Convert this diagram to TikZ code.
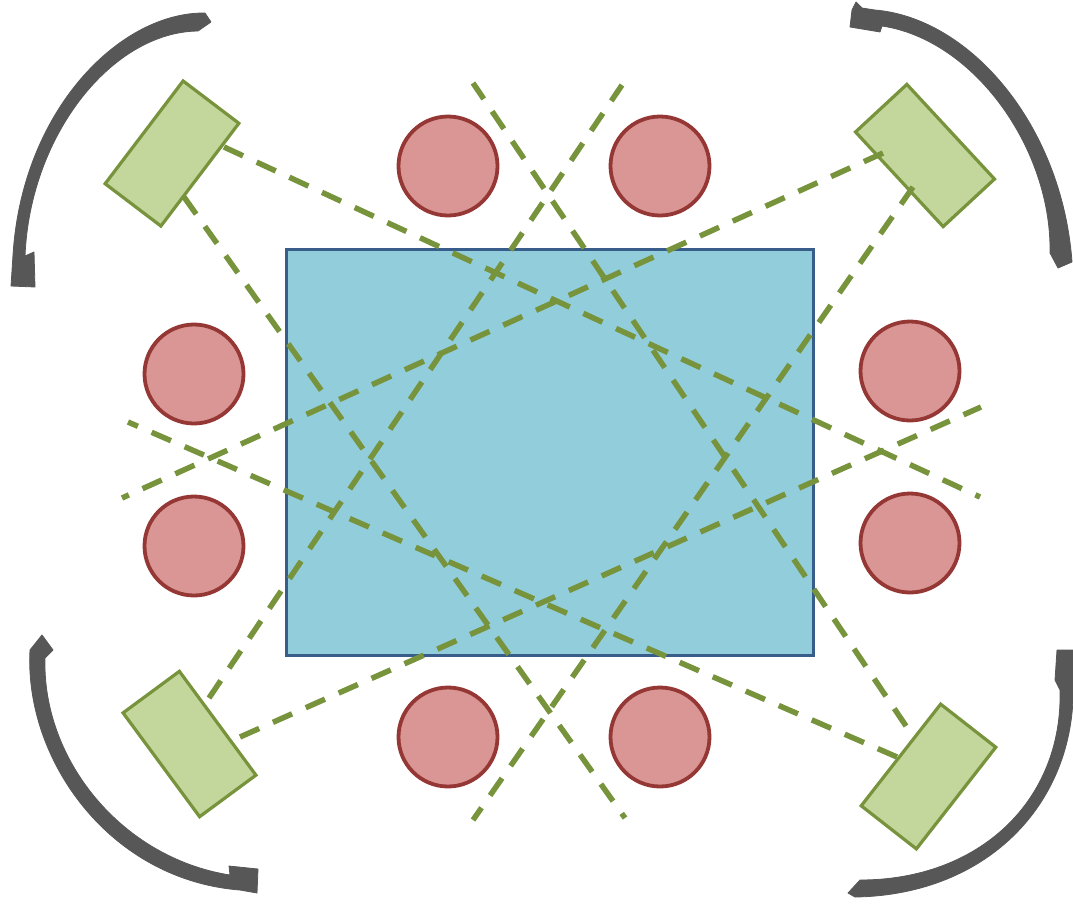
\documentclass[tikz,border=0pt]{standalone}
\usetikzlibrary{calc}
\definecolor{roomfill}{HTML}{92CDDC}
\definecolor{roomline}{HTML}{385D8A}
\definecolor{seatfill}{HTML}{D99694}
\definecolor{seatline}{HTML}{953735}
\definecolor{camfill}{HTML}{C3D69B}
\definecolor{camline}{HTML}{77933C}
\definecolor{arrowgray}{HTML}{575757}
\tikzset{
  room/.style={draw=roomline, fill=roomfill, line width=3pt},
  seat/.style={circle, draw=seatline, fill=seatfill, line width=3.8pt, minimum size=99pt, inner sep=0pt},
  cam/.style={rectangle, draw=camline, fill=camfill, line width=3.2pt, minimum width=70pt, minimum height=129pt, inner sep=0pt},
  view/.style={draw=camline, line width=5.5pt, dash pattern=on 21pt off 15pt},
  turn/.style={fill=arrowgray, draw=arrowgray, line width=0.8pt, line join=round}
}
\begin{document}
\begin{tikzpicture}[x=1pt,y=-1pt]
\useasboundingbox (0,0) rectangle (1073,903);
% room
\path[room] (286,249) rectangle (813,655);
% seats
\node[seat] (s1) at (448,166) {};
\node[seat] (s2) at (660,166) {};
\node[seat] (s3) at (194,374) {};
\node[seat] (s4) at (194,546) {};
\node[seat] (s5) at (910,371) {};
\node[seat] (s6) at (910,543) {};
\node[seat] (s7) at (448,737) {};
\node[seat] (s8) at (660,737) {};
% cameras
\node[cam, rotate=-37.2] (ctl) at (172,153.5) {};
\node[cam, rotate=42.8] (ctr) at (925,155.5) {};
\node[cam, rotate=36.4] (cbl) at (189.5,744) {};
\node[cam, rotate=-38] (cbr) at (928.5,776.5) {};
% view line ends
\coordinate (a1s) at (224,147);  \coordinate (a1e) at (980,497);
\coordinate (a2s) at (184,197);  \coordinate (a2e) at (625,818);
\coordinate (b1s) at (883,153);  \coordinate (b1e) at (122,498);
\coordinate (b2s) at (913,187);  \coordinate (b2e) at (473,820);
\coordinate (c1s) at (209,698);  \coordinate (c1e) at (622,85);
\coordinate (c2s) at (240,737);  \coordinate (c2e) at (981,407);
\coordinate (d1s) at (897,757);  \coordinate (d1e) at (128,422);
\coordinate (d2s) at (906,726);  \coordinate (d2e) at (473,83);
\draw[view] (a1s) -- (a1e);
\draw[view] (a2s) -- (a2e);
\draw[view] (b1s) -- (b1e);
\draw[view] (b2s) -- (b2e);
\draw[view] (c1s) -- (c1e);
\draw[view] (c2s) -- (c2e);
\draw[view] (d1s) -- (d1e);
\draw[view] (d2s) -- (d2e);
% rotation arrows
% top-left
\path[turn] (205,13) .. controls (120,12) and (22,110) .. (13,255)
  -- (11,286) -- (35,287) -- (34,252) -- (25,256)
  .. controls (30,135) and (112,32) .. (198,31) -- (211,22) -- cycle;
% top-right
\path[turn] (1050,253) .. controls (1052,150) and (975,40) .. (882,26)
  -- (880,32) -- (850,27) -- (852,10) -- (856,2) -- (862,8) -- (875,10)
  .. controls (970,18) and (1062,125) .. (1072,262) -- (1058,268) -- cycle;
% bottom-left
\path[turn] (42,635) -- (53,650) -- (45,658)
  .. controls (42,760) and (122,858) .. (230,875)
  -- (229,866) -- (258,869) -- (257,893) -- (240,890)
  .. controls (110,880) and (24,760) .. (30,650) -- cycle;
% bottom-right
\path[turn] (848,893) -- (860,880)
  .. controls (980,880) and (1063,800) .. (1060,690)
  -- (1055,680) -- (1057,650) -- (1073,650) -- (1073,680)
  .. controls (1078,800) and (990,895) .. (855,897) -- cycle;
\end{tikzpicture}
\end{document}
